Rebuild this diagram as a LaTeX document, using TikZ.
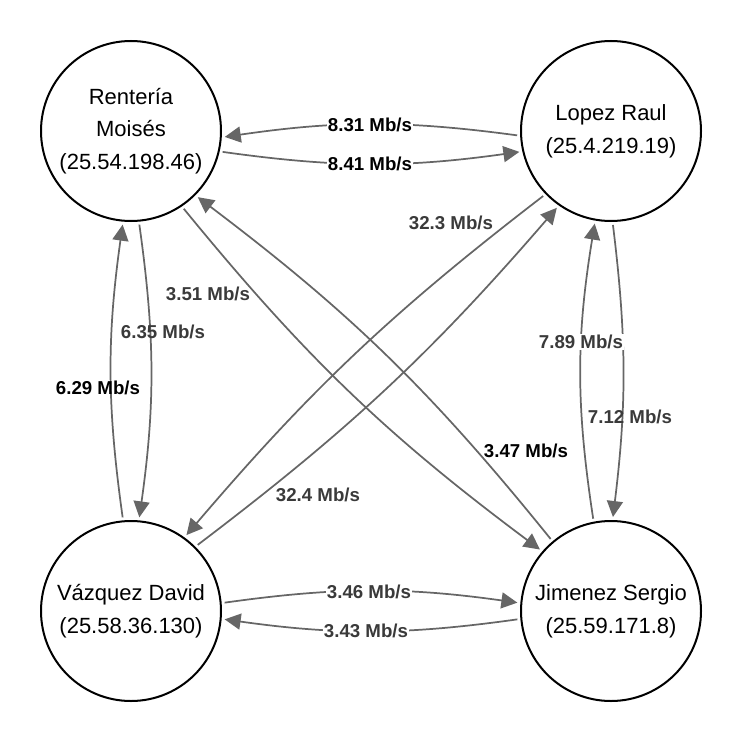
\documentclass[tikz,border=0pt]{standalone}
\usepackage{fontspec}
\setmainfont{Liberation Sans}
\usetikzlibrary{arrows.meta}

\definecolor{edgegray}{HTML}{666666}
\definecolor{rategray}{HTML}{3A3A3A}

\begin{document}
\begin{tikzpicture}[x=0.75pt, y=-0.75pt,
  host/.style={circle, draw, fill=white, line width=1.5pt, minimum size=135pt, inner sep=0pt, align=center, font=\fontsize{16.5}{24.5}\selectfont},
  flow/.style={draw=edgegray, line width=1.3pt, -{Triangle[length=12pt, width=12pt]}, shorten >=2.25pt, shorten <=2.25pt},
  rate/.style={inner sep=1pt, text=rategray, font=\fontsize{14}{16}\selectfont\bfseries},
  ratek/.style={rate, text=black}]

\useasboundingbox (0,0) rectangle (749,742);

% Nodes
\node (moises) [host] at (131,131) {Rentería\\Moisés\\(25.54.198.46)};
\node (raul)   [host] at (611,131) {Lopez Raul\\(25.4.219.19)};
\node (david)  [host] at (131,611) {Vázquez David\\(25.58.36.130)};
\node (sergio) [host] at (611,611) {Jimenez Sergio\\(25.59.171.8)};

% Arrows
\draw[flow] (raul.183) to[bend right=8] (moises.356);
\draw[flow] (moises.347) to[bend right=8] (raul.193);
\draw[flow] (moises.275) to[bend left=8] (david.85);
\draw[flow] (david.95) to[bend left=8] (moises.265);
\draw[flow] (moises.304) to[bend right=7] (sergio.139);
\draw[flow] (sergio.130) to[bend right=7] (moises.315);
\draw[flow] (raul.224) to[bend right=6] (david.54);
\draw[flow] (david.45) to[bend right=6] (raul.235);
\draw[flow] (sergio.101) to[bend left=9] (raul.260);
\draw[flow] (raul.271) to[bend left=7] (sergio.89);
\draw[flow] (david.5) to[bend left=8] (sergio.175);
\draw[flow] (sergio.185) to[bend left=8] (david.355);

% Labels
\node (r831) [ratek, fill=white] at (370,125) {8.31 Mb/s};
\node (r841) [ratek, fill=white] at (370,164) {8.41 Mb/s};
\node (r635) [rate] at (163,332) {6.35 Mb/s};
\node (r629) [ratek] at (98,388) {6.29 Mb/s};
\node (r351) [rate] at (208,294) {3.51 Mb/s};
\node (r347) [ratek] at (526,451) {3.47 Mb/s};
\node (r323) [rate] at (451,223) {32.3 Mb/s};
\node (r324) [rate] at (318,495) {32.4 Mb/s};
\node (r789) [rate, fill=white] at (581,342) {7.89 Mb/s};
\node (r712) [rate] at (630,417) {7.12 Mb/s};
\node (r346) [rate, fill=white] at (369,592) {3.46 Mb/s};
\node (r343) [rate, fill=white] at (366,631) {3.43 Mb/s};

\end{tikzpicture}
\end{document}
